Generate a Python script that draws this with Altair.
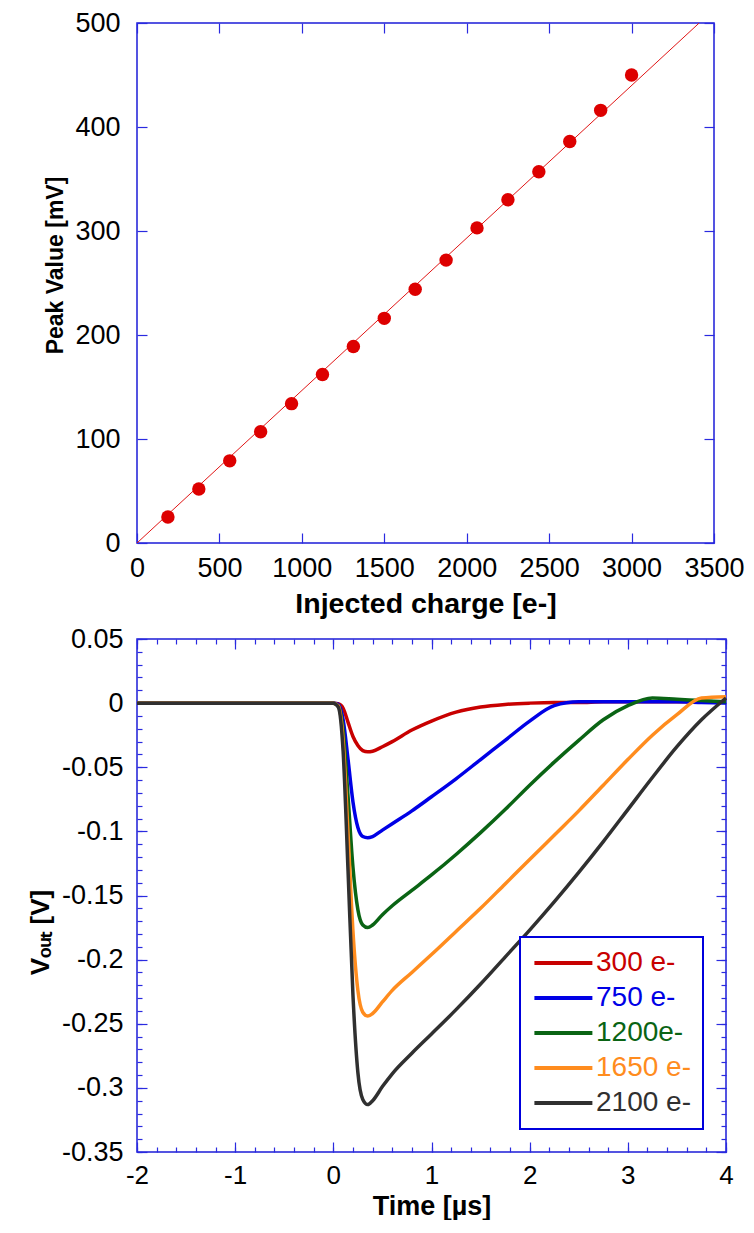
import altair as alt
import pandas as pd
import numpy as np

FONT = "Liberation Sans"
FRAME_BLUE = "#1c1cd8"
TICK_BLUE = "#2a2ae0"

# ---------------- top panel data ----------------
charge = [187.5, 375, 562.5, 750, 937.5, 1125, 1312.5, 1500, 1687.5, 1875,
          2062.5, 2250, 2437.5, 2625, 2812.5, 3000]
peak_mv = [25, 52, 79, 107, 134, 162, 189, 216, 244, 272, 303, 330, 357, 386, 416, 450]
fit_charge = [0, 3410]
fit_mv = [0, 500]

x_top_ticks = [0, 500, 1000, 1500, 2000, 2500, 3000, 3500]
y_top_ticks = [0, 100, 200, 300, 400, 500]

# ---------------- bottom panel data ----------------
time_us = [-2, -1, 0, 0.05, 0.1, 0.15, 0.2, 0.25, 0.3, 0.35, 0.4, 0.5, 0.6, 0.8,
           1.0, 1.25, 1.5, 1.75, 2.0, 2.25, 2.5, 2.75, 3.0, 3.25, 3.5, 3.75, 4.0]
v_300 = [0, 0, 0, -0.0005, -0.004, -0.015, -0.026, -0.033, -0.037, -0.038, -0.0375,
         -0.034, -0.030, -0.021, -0.014, -0.007, -0.003, -0.001, 0.0, 0.0005, 0.0005,
         0.001, 0.001, 0.001, 0.001, 0.001, 0.001]
v_750 = [0, 0, 0, -0.001, -0.013, -0.044, -0.077, -0.097, -0.104, -0.105, -0.104,
         -0.099, -0.094, -0.084, -0.073, -0.059, -0.044, -0.029, -0.014, -0.002, 0.001,
         0.001, 0.001, 0.001, 0.001, 0.0005, 0.0]
v_1200 = [0, 0, 0, -0.002, -0.021, -0.073, -0.128, -0.161, -0.173, -0.175, -0.173,
          -0.165, -0.158, -0.146, -0.134, -0.118, -0.101, -0.083, -0.064, -0.046, -0.029,
          -0.013, -0.002, 0.004, 0.003, 0.002, 0.001]
v_1650 = [0, 0, 0, -0.002, -0.029, -0.102, -0.178, -0.224, -0.241, -0.244, -0.242,
          -0.233, -0.224, -0.210, -0.196, -0.178, -0.160, -0.141, -0.122, -0.103, -0.084,
          -0.064, -0.044, -0.025, -0.009, 0.004, 0.005]
v_2100 = [0, 0, 0, -0.003, -0.038, -0.131, -0.228, -0.288, -0.309, -0.313, -0.310,
          -0.299, -0.289, -0.273, -0.258, -0.239, -0.219, -0.198, -0.177, -0.155, -0.132,
          -0.108, -0.083, -0.058, -0.034, -0.013, 0.004]

series_labels = ["300 e-", "750 e-", "1200e-", "1650 e-", "2100 e-"]
series_colors = ["#c80000", "#0000e6", "#0a6414", "#ff8c1e", "#303030"]

x_bot_ticks = [-2, -1, 0, 1, 2, 3, 4]
y_bot_ticks = [0.05, 0, -0.05, -0.1, -0.15, -0.2, -0.25, -0.3, -0.35]
x_bot_minor = [round(v, 2) for v in np.arange(-2, 4.001, 0.2)]
y_bot_minor = [round(v, 3) for v in np.arange(-0.35, 0.0501, 0.01)]


def tick_axis(orient, values, size, width=1.2):
    return alt.Axis(orient=orient, values=values, tickSize=size, offset=-size,
                    labels=False, domain=False, title=None, ticks=True,
                    tickColor=TICK_BLUE, tickWidth=width, grid=False)


# ---------------- top panel ----------------
pts = pd.DataFrame({"charge": charge, "peak": peak_mv})
fit = pd.DataFrame({"charge": fit_charge, "peak": fit_mv})
xs = alt.Scale(domain=[0, 3500], nice=False)
ys = alt.Scale(domain=[0, 500], nice=False)

fit_layer = alt.Chart(fit).mark_line(color="#e01515", strokeWidth=1, clip=True).encode(
    x=alt.X("charge:Q", scale=xs, axis=None),
    y=alt.Y("peak:Q", scale=ys, axis=None),
)
pt_layer = alt.Chart(pts).mark_circle(size=180, color="#dd0000", opacity=1).encode(
    x=alt.X("charge:Q", scale=xs,
            axis=alt.Axis(orient="bottom", values=x_top_ticks, format="d", ticks=False,
                          domain=False, labelPadding=12, labelFontSize=27,
                          labelOverlap=False, labelFlush=False,
                          title="Injected charge [e-]", titleFontSize=28.5,
                          titleFontWeight="bold", titlePadding=8)),
    y=alt.Y("peak:Q", scale=ys,
            axis=alt.Axis(orient="left", values=y_top_ticks, format="d", ticks=False,
                          domain=False, labelPadding=17, labelFontSize=27,
                          labelOverlap=False, labelFlush=False,
                          title="Peak Value [mV]", titleFontSize=23,
                          titleFontWeight="bold", titlePadding=7, titleY=242)),
)
top_ticks_a = alt.Chart(pts).mark_point(opacity=0).encode(
    x=alt.X("charge:Q", scale=xs, axis=tick_axis("bottom", x_top_ticks, 10)),
    y=alt.Y("peak:Q", scale=ys, axis=tick_axis("left", y_top_ticks, 10)),
)
top_ticks_b = alt.Chart(pts).mark_point(opacity=0).encode(
    x=alt.X("charge:Q", scale=xs, axis=tick_axis("top", x_top_ticks, 10)),
    y=alt.Y("peak:Q", scale=ys, axis=tick_axis("right", y_top_ticks, 10)),
)
top = alt.layer(fit_layer, pt_layer, top_ticks_a, top_ticks_b).resolve_axis(
    x="independent", y="independent").properties(width=577, height=520)

# ---------------- bottom panel ----------------
rows = []
for lab, vals in zip(series_labels, [v_300, v_750, v_1200, v_1650, v_2100]):
    for t, v in zip(time_us, vals):
        rows.append({"t": t, "v": v, "series": lab})
wave = pd.DataFrame(rows)

xsb = alt.Scale(domain=[-2, 4], nice=False)
ysb = alt.Scale(domain=[-0.35, 0.05], nice=False)
color_scale = alt.Scale(domain=series_labels, range=series_colors)

label_color_expr = " : ".join(
    f"datum.label == '{l}' ? '{c}'" for l, c in zip(series_labels, series_colors)
) + " : 'black'"

lines = alt.Chart(wave).mark_line(strokeWidth=3.5, interpolate="monotone").encode(
    x=alt.X("t:Q", scale=xsb,
            axis=alt.Axis(orient="bottom", values=x_bot_ticks, ticks=False, domain=False,
                          labelExpr="'' + datum.value", labelPadding=10, labelFontSize=26,
                          labelOverlap=False, labelFlush=False,
                          title="Time [µs]", titleFontSize=27, titleFontWeight="bold",
                          titlePadding=5)),
    y=alt.Y("v:Q", scale=ysb,
            axis=alt.Axis(orient="left", values=y_bot_ticks, ticks=False, domain=False,
                          labelExpr="'' + round(datum.value * 100) / 100",
                          labelPadding=14, labelFontSize=27, labelOverlap=False,
                          labelFlush=False,
                          title="Vₒᵤₜ [V]", titleFontSize=26,
                          titleFontWeight="bold", titlePadding=8, titleY=293)),
    color=alt.Color("series:N", scale=color_scale,
                    legend=alt.Legend(orient="none", legendX=383, legendY=914, title=None,
                                      symbolType="M-1,0H4", symbolSize=538,
                                      symbolStrokeWidth=4, labelFontSize=28,
                                      labelFont=FONT,
                                      labelColor=alt.ExprRef(label_color_expr),
                                      strokeColor="#0000dd", fillColor="white",
                                      padding=12, rowPadding=7, labelOffset=36)),
)
bot_ticks_a = alt.Chart(wave).mark_point(opacity=0).encode(
    x=alt.X("t:Q", scale=xsb, axis=tick_axis("bottom", x_bot_ticks, 10)),
    y=alt.Y("v:Q", scale=ysb, axis=tick_axis("left", y_bot_ticks, 10)),
)
bot_ticks_b = alt.Chart(wave).mark_point(opacity=0).encode(
    x=alt.X("t:Q", scale=xsb, axis=tick_axis("top", x_bot_ticks, 10)),
    y=alt.Y("v:Q", scale=ysb, axis=tick_axis("right", y_bot_ticks, 10)),
)
bot_ticks_c = alt.Chart(wave).mark_point(opacity=0).encode(
    x=alt.X("t:Q", scale=xsb, axis=tick_axis("bottom", x_bot_minor, 5)),
    y=alt.Y("v:Q", scale=ysb, axis=tick_axis("left", y_bot_minor, 5)),
)
bot_ticks_d = alt.Chart(wave).mark_point(opacity=0).encode(
    x=alt.X("t:Q", scale=xsb, axis=tick_axis("top", x_bot_minor, 5)),
    y=alt.Y("v:Q", scale=ysb, axis=tick_axis("right", y_bot_minor, 5)),
)
bottom = alt.layer(lines, bot_ticks_a, bot_ticks_b, bot_ticks_c, bot_ticks_d).resolve_axis(
    x="independent", y="independent").properties(width=589, height=513)

chart = alt.vconcat(top, bottom, spacing=5).properties(
    padding={"left": 18, "top": 0, "right": 0, "bottom": 0}
).configure_view(stroke=FRAME_BLUE, strokeWidth=1.5).configure_axis(
    labelFont=FONT, titleFont=FONT, labelColor="black", titleColor="black", grid=False,
    labelFlush=False
).configure_legend(strokeWidth=2)

chart.save("out.html", embed_options={"renderer": "svg", "actions": False})
